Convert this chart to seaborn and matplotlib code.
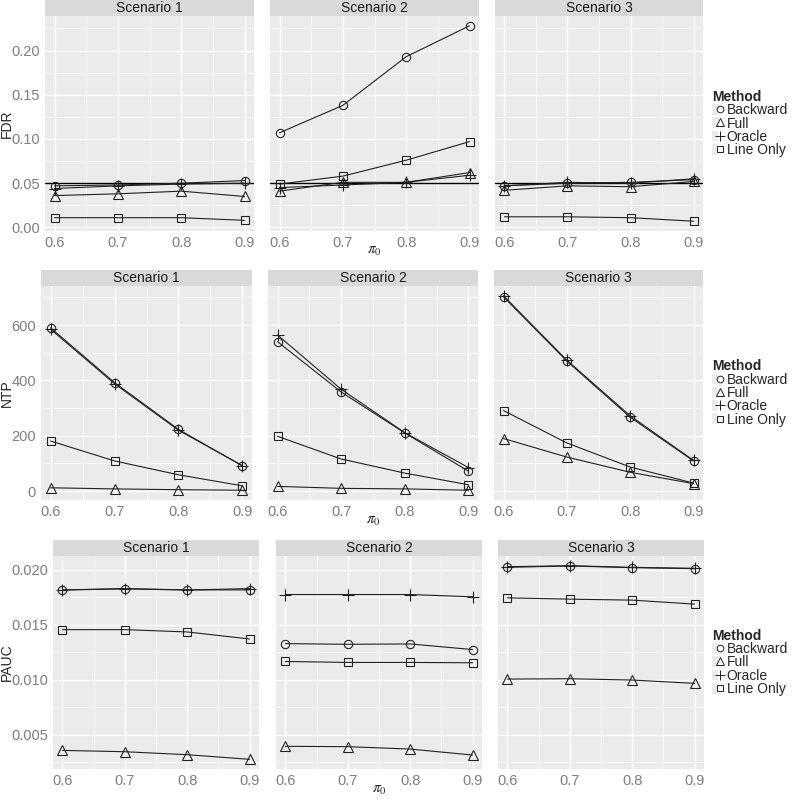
import matplotlib
matplotlib.use('Agg')
import matplotlib.pyplot as plt
import numpy as np
import pandas as pd
import seaborn as sns
from matplotlib.lines import Line2D
from matplotlib.patches import Rectangle
from matplotlib.legend_handler import HandlerTuple
from matplotlib.ticker import FixedLocator, FormatStrFormatter

pi0 = [0.6, 0.7, 0.8, 0.9]
scenarios = ['Scenario 1', 'Scenario 2', 'Scenario 3']
methods = ['Backward', 'Full', 'Oracle', 'Line Only']

# FDR, one list per scenario
fdr_backward = [[0.047, 0.048, 0.050, 0.053], [0.107, 0.138, 0.193, 0.228], [0.047, 0.050, 0.051, 0.054]]
fdr_full = [[0.036, 0.038, 0.041, 0.035], [0.041, 0.051, 0.051, 0.062], [0.042, 0.047, 0.046, 0.052]]
fdr_oracle = [[0.044, 0.047, 0.049, 0.050], [0.045, 0.048, 0.051, 0.059], [0.047, 0.051, 0.050, 0.055]]
fdr_line = [[0.011, 0.011, 0.011, 0.008], [0.049, 0.058, 0.076, 0.097], [0.012, 0.012, 0.011, 0.007]]

# NTP
ntp_backward = [[590, 392, 223, 91], [540, 358, 210, 72], [702, 470, 267, 109]]
ntp_full = [[12, 8, 5, 3], [17, 10, 8, 3], [190, 123, 68, 27]]
ntp_oracle = [[585, 388, 220, 92], [564, 368, 211, 85], [706, 473, 272, 111]]
ntp_line = [[181, 109, 59, 19], [198, 116, 65, 23], [291, 174, 87, 29]]

# PAUC
pauc_backward = [[0.01816, 0.01828, 0.01816, 0.01816], [0.01328, 0.01322, 0.01325, 0.01274], [0.02021, 0.02033, 0.02018, 0.02009]]
pauc_full = [[0.00358, 0.00346, 0.00319, 0.00277], [0.00395, 0.00392, 0.00370, 0.00316], [0.01006, 0.01009, 0.00997, 0.00967]]
pauc_oracle = [[0.01815, 0.01825, 0.01815, 0.01828], [0.01774, 0.01774, 0.01774, 0.01753], [0.02027, 0.02036, 0.02021, 0.02012]]
pauc_line = [[0.01455, 0.01455, 0.01434, 0.01370], [0.01166, 0.01157, 0.01157, 0.01154], [0.01744, 0.01732, 0.01723, 0.01687]]

W, H = 792, 799
sns.set_style('white')
plt.rcParams['font.family'] = ['Liberation Sans', 'DejaVu Sans']
plt.rcParams['mathtext.fontset'] = 'stix'

fig = plt.figure(figsize=(W / 100, H / 100), dpi=100)

markers = {'Backward': ('o', 6.0), 'Full': ('^', 7.5), 'Oracle': ('+', 9.0), 'Line Only': ('s', 6.0)}


def long_df(b, f, o, l):
    rows = []
    for m, vals in zip(methods, [b, f, o, l]):
        for s, sv in zip(scenarios, vals):
            for x, v in zip(pi0, sv):
                rows.append((s, m, x, v))
    return pd.DataFrame(rows, columns=['Scenario', 'Method', 'pi0', 'value'])


rows_cfg = [
    dict(df=long_df(fdr_backward, fdr_full, fdr_oracle, fdr_line), name='FDR',
         xs=[(45, 254), (270, 479), (495, 703)], top=16, bottom=231,
         ticks=[0.0, 0.05, 0.10, 0.15, 0.20], fmt='%.2f', hline=0.05, ylab_x=7, pi_y=251),
    dict(df=long_df(ntp_backward, ntp_full, ntp_oracle, ntp_line), name='NTP',
         xs=[(41, 252), (268, 478), (494, 703)], top=286, bottom=500,
         ticks=[0, 200, 400, 600], fmt='%d', hline=None, ylab_x=7, pi_y=521),
    dict(df=long_df(pauc_backward, pauc_full, pauc_oracle, pauc_line), name='PAUC',
         xs=[(53, 259), (276, 482), (498, 704)], top=556, bottom=769,
         ticks=[0.005, 0.010, 0.015, 0.020], fmt='%.3f', hline=None, ylab_x=7, pi_y=790),
]

strip_h = 16
for cfg in rows_cfg:
    df = cfg['df']
    vmin, vmax = df['value'].min(), df['value'].max()
    pad = (vmax - vmin) * 0.05
    ylim = (vmin - pad, vmax + pad)
    t = cfg['ticks']
    step = t[1] - t[0]
    minor = [v + step / 2 for v in [t[0] - step] + t]
    top, bottom = cfg['top'], cfg['bottom']
    for i, (x0, x1) in enumerate(cfg['xs']):
        ax = fig.add_axes([x0 / W, 1 - bottom / H, (x1 - x0) / W, (bottom - top) / H])
        ax.set_facecolor('#EBEBEB')
        sub = df[df['Scenario'] == scenarios[i]]
        for m in methods:
            mk, ms = markers[m]
            sns.lineplot(data=sub[sub['Method'] == m], x='pi0', y='value', ax=ax,
                         color='#222222', lw=0.8, marker=mk, markersize=ms,
                         markerfacecolor='none', markeredgecolor='#222222',
                         markeredgewidth=0.8, errorbar=None, legend=False, zorder=3)
        if cfg['hline'] is not None:
            ax.axhline(cfg['hline'], color='black', lw=1.0, zorder=2)
        ax.set_xlim(0.585, 0.915)
        ax.set_ylim(*ylim)
        ax.xaxis.set_major_locator(FixedLocator(pi0))
        ax.xaxis.set_minor_locator(FixedLocator([0.65, 0.75, 0.85]))
        ax.yaxis.set_major_locator(FixedLocator(t))
        ax.yaxis.set_minor_locator(FixedLocator(minor))
        ax.yaxis.set_major_formatter(FormatStrFormatter(cfg['fmt']))
        ax.xaxis.set_major_formatter(FormatStrFormatter('%.1f'))
        ax.grid(which='major', color='white', lw=1.0)
        ax.grid(which='minor', color='white', lw=0.5)
        ax.set_axisbelow(True)
        for sp in ax.spines.values():
            sp.set_visible(False)
        ax.tick_params(which='major', length=2.2, width=0.8, color='#7F7F7F',
                       labelcolor='#7F7F7F', labelsize=10.5, pad=1.5)
        ax.tick_params(which='minor', length=0)
        if i > 0:
            ax.tick_params(axis='y', length=0, labelleft=False)
        ax.set_xlabel('')
        ax.set_ylabel('')
        sh = strip_h / (bottom - top)
        ax.add_patch(Rectangle((0, 1), 1, sh, transform=ax.transAxes, clip_on=False,
                               facecolor='#D9D9D9', edgecolor='none'))
        ax.text(0.5, 1 + sh / 2, scenarios[i], transform=ax.transAxes, ha='center',
                va='center', fontsize=10, color='#1A1A1A')
        if i == 1:
            fig.text((x0 + x1) / 2 / W, 1 - cfg['pi_y'] / H, r'$\pi_0$', ha='center',
                     va='center', fontsize=11)
    fig.text(cfg['ylab_x'] / W, 1 - (top + bottom) / 2 / H, cfg['name'], rotation=90,
             ha='center', va='center', fontsize=10)

    handles = []
    for m in methods:
        mk, ms = markers[m]
        bg = Rectangle((0, 0), 1, 1, facecolor='#EBEBEB', edgecolor='none')
        ln = Line2D([], [], linestyle='none', marker=mk, markersize=ms * 0.8,
                    markerfacecolor='none', markeredgecolor='#222222', markeredgewidth=0.7)
        handles.append((bg, ln))
    leg = fig.legend(handles, methods, loc='center left',
                     bbox_to_anchor=(712 / W, 1 - (top + bottom) / 2 / H),
                     frameon=False, fontsize=10, title='Method',
                     title_fontproperties={'weight': 'bold', 'size': 10},
                     handlelength=0.8, handleheight=0.8, handletextpad=0.25,
                     labelspacing=-0.05, borderpad=0, borderaxespad=0, alignment='left',
                     handler_map={tuple: HandlerTuple(ndivide=None, pad=0)})

fig.savefig('out.png', dpi=100)
